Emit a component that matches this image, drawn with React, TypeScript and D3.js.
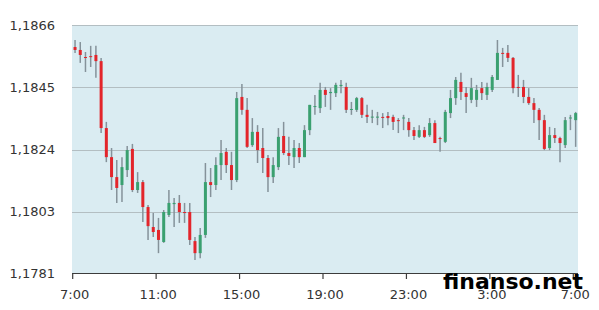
import React from "react";
import * as d3 from "d3";

// 15-minute EUR/USD candles, 7:00 -> 7:00
const opens = [1.18586,1.18576,1.18552,1.18555,1.18559,1.18538,1.18310,1.18211,1.18143,1.18116,
1.18167,1.18239,1.18099,1.18126,1.18041,1.17973,1.17963,1.17922,1.18014,1.18051,
1.18055,1.18024,1.18024,1.17925,1.17884,1.17946,1.18126,1.18116,1.18184,1.18229,
1.18184,1.18133,1.18416,1.18372,1.18252,1.18297,1.18242,1.18208,1.18143,1.18177,
1.18283,1.18225,1.18211,1.18242,1.18211,1.18303,1.18382,1.18378,1.18440,1.18429,
1.18429,1.18453,1.18450,1.18372,1.18372,1.18412,1.18355,1.18348,1.18348,1.18348,
1.18351,1.18348,1.18337,1.18344,1.18331,1.18303,1.18280,1.18303,1.18286,1.18327,
1.18276,1.18263,1.18361,1.18412,1.18467,1.18429,1.18406,1.18406,1.18446,1.18423,
1.18440,1.18474,1.18566,1.18566,1.18549,1.18450,1.18450,1.18416,1.18395,1.18372,
1.18337,1.18242,1.18286,1.18276,1.18252,1.18344,1.18337];

const highs = [1.18610,1.18603,1.18569,1.18590,1.18590,1.18549,1.18331,1.18242,1.18201,1.18211,
1.18249,1.18256,1.18160,1.18133,1.18048,1.18021,1.18004,1.18031,1.18099,1.18072,
1.18082,1.18055,1.18055,1.17939,1.17970,1.18191,1.18174,1.18211,1.18269,1.18242,
1.18229,1.18433,1.18460,1.18412,1.18344,1.18320,1.18310,1.18218,1.18211,1.18310,
1.18331,1.18280,1.18269,1.18259,1.18320,1.18389,1.18423,1.18464,1.18450,1.18446,
1.18464,1.18474,1.18464,1.18399,1.18416,1.18416,1.18389,1.18372,1.18365,1.18361,
1.18365,1.18355,1.18344,1.18355,1.18344,1.18314,1.18320,1.18314,1.18344,1.18337,
1.18280,1.18372,1.18440,1.18484,1.18498,1.18450,1.18481,1.18457,1.18467,1.18464,
1.18491,1.18610,1.18583,1.18593,1.18552,1.18491,1.18474,1.18446,1.18412,1.18378,
1.18355,1.18314,1.18310,1.18280,1.18348,1.18355,1.18365];

const lows = [1.18566,1.18532,1.18501,1.18518,1.18481,1.18293,1.18194,1.18099,1.18055,1.18058,
1.18143,1.18092,1.18089,1.17990,1.17929,1.17939,1.17884,1.17919,1.18007,1.17973,
1.17987,1.17987,1.17912,1.17861,1.17867,1.17936,1.18075,1.18099,1.18133,1.18157,
1.18099,1.18126,1.18355,1.18242,1.18246,1.18191,1.18157,1.18092,1.18123,1.18167,
1.18218,1.18184,1.18174,1.18191,1.18211,1.18286,1.18355,1.18361,1.18382,1.18372,
1.18416,1.18429,1.18361,1.18355,1.18365,1.18344,1.18327,1.18327,1.18320,1.18310,
1.18320,1.18303,1.18293,1.18303,1.18280,1.18269,1.18276,1.18276,1.18280,1.18259,
1.18229,1.18259,1.18344,1.18389,1.18406,1.18361,1.18395,1.18382,1.18406,1.18406,
1.18433,1.18474,1.18518,1.18535,1.18429,1.18416,1.18395,1.18389,1.18327,1.18269,
1.18235,1.18235,1.18259,1.18194,1.18242,1.18303,1.18246];

const closes = [1.18576,1.18559,1.18549,1.18554,1.18538,1.18310,1.18211,1.18143,1.18106,1.18177,
1.18235,1.18099,1.18126,1.18041,1.17976,1.17956,1.17929,1.18024,1.18055,1.18055,
1.18024,1.18022,1.17929,1.17884,1.17946,1.18126,1.18116,1.18184,1.18225,1.18184,
1.18133,1.18412,1.18372,1.18246,1.18297,1.18235,1.18208,1.18143,1.18184,1.18280,
1.18225,1.18215,1.18242,1.18211,1.18303,1.18389,1.18385,1.18440,1.18423,1.18433,
1.18457,1.18457,1.18372,1.18375,1.18412,1.18355,1.18348,1.18349,1.18349,1.18346,
1.18344,1.18331,1.18336,1.18346,1.18303,1.18283,1.18303,1.18280,1.18327,1.18259,
1.18274,1.18365,1.18412,1.18474,1.18433,1.18416,1.18446,1.18440,1.18429,1.18450,
1.18484,1.18566,1.18564,1.18549,1.18446,1.18448,1.18416,1.18395,1.18372,1.18337,
1.18239,1.18286,1.18276,1.18259,1.18337,1.18346,1.18361];

const yTicks = [1.17814, 1.180255, 1.18237, 1.184485, 1.1866];
const yTickLabels = ["1,1781", "1,1803", "1,1824", "1,1845", "1,1866"];
const xTickHours = [0, 4, 8, 12, 16, 20, 24];
const xTickLabels = ["7:00", "11:00", "15:00", "19:00", "23:00", "3:00", "7:00"];
const candleHours = 0.25;

const W = 599;
const H = 310;
const plot = { left: 72, right: 578, top: 25, bottom: 274 };

export default function App() {
  const x = d3.scaleLinear().domain([0, 24]).range([72.7, 573.3]);
  const y = d3.scaleLinear().domain([yTicks[0], yTicks[yTicks.length - 1]]).range([273.7, 25.3]);
  const font = "'DejaVu Sans', sans-serif";
  const bodyW = 3;

  return (
    <div style={{ position: "fixed", left: 0, top: 0 }}>
      <svg width={W} height={H} style={{ display: "block", background: "#fff" }}>
        <rect x={plot.left} y={plot.top} width={plot.right - plot.left} height={plot.bottom - plot.top} fill="#daecf2" />
        {yTicks.slice(1).map((t, i) => (
          <line key={"g" + i} x1={plot.left} x2={plot.right} y1={Math.round(y(t)) + 0.5} y2={Math.round(y(t)) + 0.5} stroke="#b3bec2" strokeWidth={1} />
        ))}
        {yTicks.map((t, i) => (
          <text key={"yl" + i} x={55} y={y(t)} dy="0.35em" textAnchor="end" fontFamily={font} fontSize={13} fill="#333">
            {yTickLabels[i]}
          </text>
        ))}
        {opens.map((o, i) => {
          const c = closes[i];
          const cx = x((i + 0.45) * candleHours);
          const up = c >= o;
          const top = y(Math.max(o, c));
          const bot = y(Math.min(o, c));
          const h = Math.max(1, bot - top);
          return (
            <g key={"c" + i}>
              <line x1={cx} x2={cx} y1={y(highs[i])} y2={y(lows[i])} stroke="#85929a" strokeWidth={1.5} />
              <rect x={cx - bodyW / 2} y={top} width={bodyW} height={h} fill={up ? "#3aa070" : "#e3252b"} />
            </g>
          );
        })}
        <line x1={plot.left} x2={plot.right} y1={273.5} y2={273.5} stroke="#3c3c3c" strokeWidth={1.2} />
        {xTickHours.map((hr, i) => (
          <g key={"xt" + i}>
            <line x1={x(hr)} x2={x(hr)} y1={273.5} y2={279} stroke="#3c3c3c" strokeWidth={1.2} />
            <text x={x(hr) + 2} y={299} textAnchor="middle" fontFamily={font} fontSize={13} fill="#333">
              {xTickLabels[i]}
            </text>
          </g>
        ))}
        <text x={443} y={289} fontFamily="'DejaVu Sans', sans-serif" fontWeight="bold" fontSize={21} fill="#000" textLength={140} lengthAdjust="spacingAndGlyphs">
          finanso.net
        </text>
      </svg>
    </div>
  );
}
